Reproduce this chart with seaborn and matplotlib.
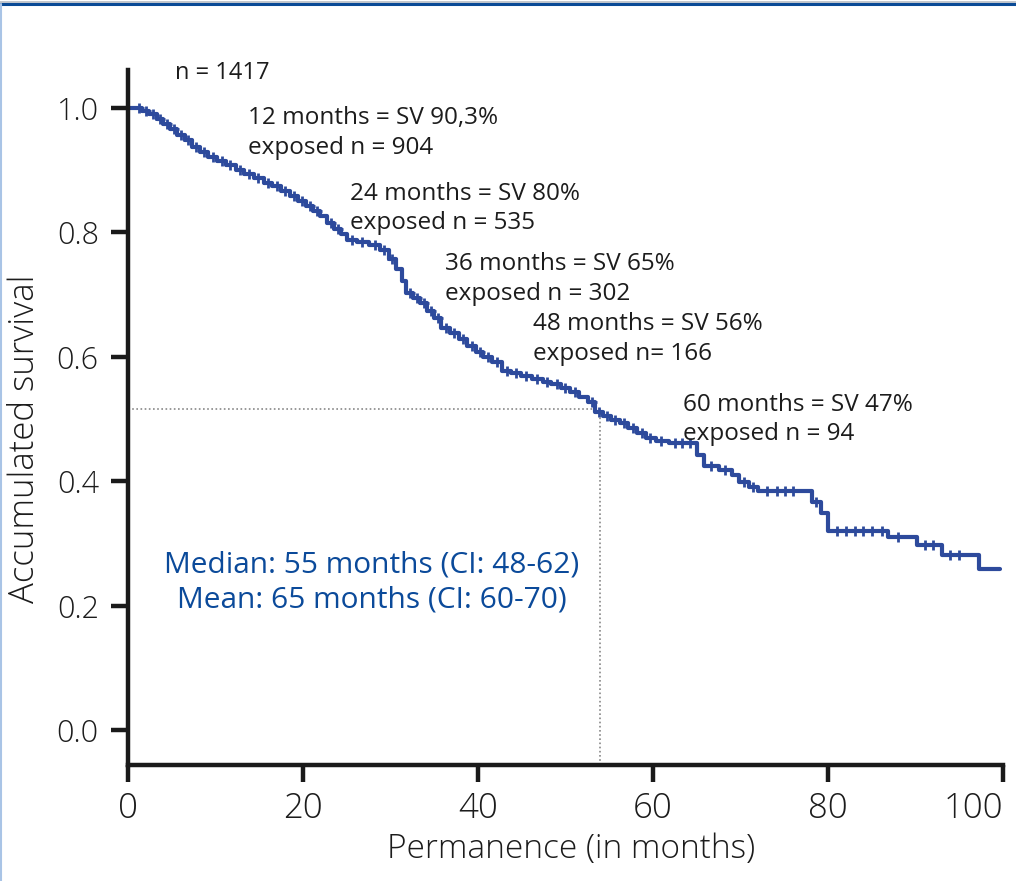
import numpy as np
import pandas as pd
import seaborn as sns
import matplotlib.pyplot as plt
from matplotlib.lines import Line2D

# Kaplan-Meier estimate (event time in months, survival after the step)
event_t = [0.0, 0.8, 1.6, 2.4, 3.3, 4.0, 4.8, 5.6, 6.5, 7.3, 8.2, 9.2, 10.2, 11.2, 12.3, 13.3,
           14.4, 15.5, 16.5, 17.5, 18.5, 19.4, 20.3, 21.2, 22.0, 22.8, 23.6, 24.3, 25.0, 26.2,
           27.5, 28.8, 29.8, 30.6, 31.3, 31.8, 32.6, 33.4, 34.2, 35.0, 35.8, 36.8, 37.8, 38.7,
           39.8, 40.6, 41.6, 42.8, 43.8, 44.9, 46.2, 47.4, 48.4, 49.5, 50.5, 51.6, 52.6, 53.4,
           54.3, 55.2, 56.2, 57.2, 58.2, 59.2, 60.3, 61.8, 65.1, 65.9, 67.6, 69.0, 69.8, 71.0,
           72.0, 78.2, 79.2, 80.0, 86.9, 90.2, 93.1, 97.3, 99.7]
event_s = [1.000, 1.000, 0.995, 0.990, 0.983, 0.975, 0.967, 0.957, 0.948, 0.938, 0.929, 0.922,
           0.915, 0.909, 0.900, 0.894, 0.887, 0.880, 0.874, 0.866, 0.858, 0.850, 0.843, 0.834,
           0.826, 0.815, 0.805, 0.797, 0.788, 0.784, 0.780, 0.771, 0.757, 0.742, 0.722, 0.703,
           0.695, 0.686, 0.674, 0.663, 0.646, 0.638, 0.628, 0.617, 0.608, 0.600, 0.592, 0.578,
           0.574, 0.570, 0.564, 0.560, 0.556, 0.550, 0.543, 0.536, 0.528, 0.512, 0.505, 0.499,
           0.493, 0.485, 0.477, 0.470, 0.465, 0.461, 0.442, 0.424, 0.418, 0.410, 0.399, 0.391,
           0.384, 0.367, 0.349, 0.320, 0.310, 0.297, 0.281, 0.259, 0.259]

# censored observations (months)
censor_t = [1.2, 2.0, 2.9, 3.7, 4.4, 5.2, 6.0, 6.9, 7.8, 8.7, 9.7, 10.7, 11.7, 12.8, 13.8, 14.9,
            16.0, 17.0, 18.0, 19.0, 19.9, 20.8, 21.6, 23.2, 24.0, 25.6, 26.8, 28.2, 29.3, 30.2,
            32.2, 33.0, 33.8, 34.6, 35.4, 36.3, 37.3, 38.3, 39.3, 40.2, 41.1, 42.2, 43.3, 44.3,
            45.5, 46.8, 47.9, 49.0, 50.0, 51.1, 53.0, 53.8, 54.8, 55.7, 56.7, 57.7, 58.7, 59.7,
            60.9, 62.5, 63.3, 64.2, 66.6, 68.2, 70.4, 71.5, 73.0, 74.2, 75.1, 76.0, 78.7, 81.0,
            82.1, 83.1, 84.0, 85.1, 86.2, 88.0, 91.1, 92.0, 94.0, 95.0]

median_t = 54.0
median_s = 0.516

n_total = "n = 1417"
milestones = ["12 months = SV 90,3%\nexposed n = 904",
              "24 months = SV 80%\nexposed n = 535",
              "36 months = SV 65%\nexposed n = 302",
              "48 months = SV 56%\nexposed n= 166",
              "60 months = SV 47%\nexposed n = 94"]
milestone_x = [13.7, 25.4, 36.2, 46.3, 63.5]
milestone_y = [0.96, 0.838, 0.725, 0.629, 0.499]
summary = "Median: 55 months (CI: 48-62)\nMean: 65 months (CI: 60-70)"

km = pd.DataFrame({"t": event_t, "s": event_s})
idx = np.searchsorted(event_t, censor_t, side="right") - 1
cens = pd.DataFrame({"t": censor_t, "s": np.array(event_s)[idx]})

sns.set_theme(style="ticks")
plt.rcParams["font.family"] = ["Open Sans", "DejaVu Sans"]

blue = "#2d4a9c"
ink = "#1c1c1c"
fig = plt.figure(figsize=(10.16, 8.81), dpi=100)
ax = fig.add_axes([0.126, 0.1317, 0.861, 0.7888])

sns.lineplot(data=km, x="t", y="s", ax=ax, color=blue, linewidth=3.0,
             drawstyle="steps-post", estimator=None, sort=False)
sns.scatterplot(data=cens, x="t", y="s", ax=ax, marker="+", color=blue, s=60,
                linewidth=2.0, zorder=3)

# median guide lines
ax.plot([0, median_t], [median_s, median_s], color="#888888", lw=1.2, ls=(0, (1, 1.5)), zorder=1)
ax.plot([median_t, median_t], [-0.056, median_s], color="#888888", lw=1.2, ls=(0, (1, 1.5)), zorder=1)

ax.set_xlim(0, 100)
ax.set_ylim(-0.056, 1.061)
ax.set_xticks([0, 20, 40, 60, 80, 100])
ax.set_xticklabels(["0", "20", "40", "60", "80", "100"])
ax.set_yticks([0.0, 0.2, 0.4, 0.6, 0.8, 1.0])
ax.set_yticklabels(["0.0", "0.2", "0.4", "0.6", "0.8", "1.0"])
for side in ["top", "right"]:
    ax.spines[side].set_visible(False)
for side in ["left", "bottom"]:
    ax.spines[side].set_linewidth(3.2)
    ax.spines[side].set_color("#1a1a1a")
ax.tick_params(axis="both", width=3.2, length=12, color="#1a1a1a", labelcolor=ink)
ax.tick_params(axis="x", labelsize=25, pad=7)
ax.tick_params(axis="y", labelsize=22, pad=9)
ax.get_xticklabels()[-1].set_horizontalalignment("right")
for lab in ax.get_xticklabels() + ax.get_yticklabels():
    lab.set_fontweight("light")

ax.set_xlabel("Permanence (in months)", fontsize=24, color=ink, fontweight="light")
ax.set_ylabel("Accumulated survival", fontsize=25, color=ink, fontweight="light")
ax.xaxis.set_label_coords(0.507, -0.097)
ax.yaxis.set_label_coords(-0.098, 0.47)

ax.text(5.4, 1.056, n_total, fontsize=17, color=ink, va="center", ha="left")
for txt, x, y in zip(milestones, milestone_x, milestone_y):
    ax.text(x, y, txt, fontsize=17.5, color=ink, va="center", ha="left", linespacing=1.3)

ax.text(27.9, 0.237, summary, fontsize=21.5, color="#0b4a9a", ha="center", va="center",
        linespacing=1.3)

# page frame
fig.add_artist(Line2D([0, 1], [1 - 1.5 / 881, 1 - 1.5 / 881], color="#b8bcc4", lw=1.2))
fig.add_artist(Line2D([0, 1], [1 - 4 / 881, 1 - 4 / 881], color="#0a4a96", lw=2.2))
fig.add_artist(Line2D([0.6 / 1016, 0.6 / 1016], [0, 1 - 4 / 881], color="#a9c4e6", lw=1.5))

fig.savefig("out.png", dpi=100)
